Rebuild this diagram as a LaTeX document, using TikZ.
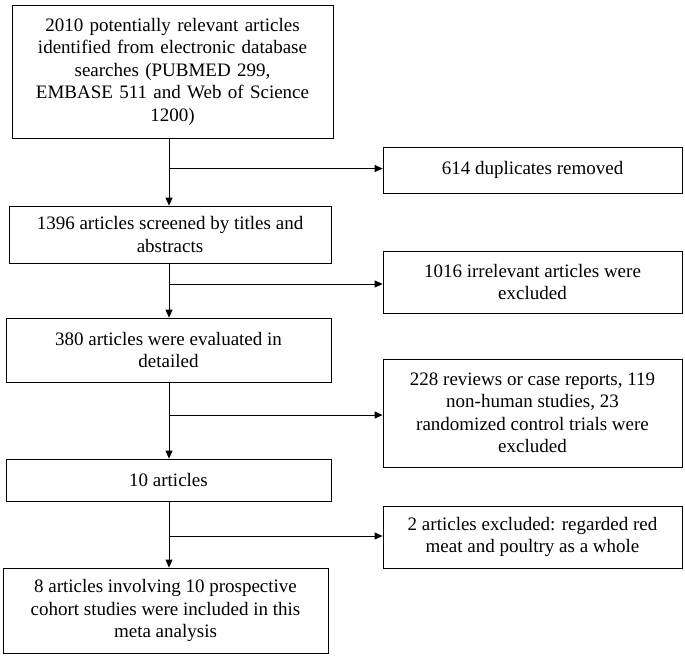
\documentclass[tikz,border=0pt]{standalone}
\usepackage{fontspec}
\setmainfont{Liberation Serif}
\usetikzlibrary{arrows.meta}
\begin{document}
\begin{tikzpicture}[x=1pt,y=-1pt,
  box/.style={draw,line width=0.8pt,align=center,inner sep=2pt,font=\fontsize{19}{22.5}\selectfont},
  arr/.style={line width=0.8pt,-{Triangle[length=8pt,width=7pt]}}]
\useasboundingbox (0,0) rectangle (685,656);
\node[box,minimum width=321pt,minimum height=133pt,text width=310pt] (b1) at (172.5,71.5) {2010 potentially relevant articles\\ identified from electronic database\\ searches (PUBMED 299,\\ EMBASE 511 and Web of Science\\ 1200)};
\node[box,minimum width=299pt,minimum height=46pt] (b2) at (532.5,170) {614 duplicates removed};
\node[box,minimum width=322pt,minimum height=57pt] (b3) at (170,234.5) {1396 articles screened by titles and\\ abstracts};
\node[box,minimum width=299pt,minimum height=62pt] (b4) at (532.5,282) {1016 irrelevant articles were\\ excluded};
\node[box,minimum width=325pt,minimum height=64pt] (b5) at (168.5,350) {380 articles were evaluated in\\ detailed};
\node[box,minimum width=299pt,minimum height=108pt] (b6) at (532.5,413) {228 reviews or case reports, 119\\ non-human studies, 23\\ randomized control trials were\\ excluded};
\node[box,minimum width=325pt,minimum height=42pt] (b7) at (168.5,480) {10 articles};
\node[box,minimum width=299pt,minimum height=62pt] (b8) at (532.5,537) {2 articles excluded: regarded red\\ meat and poultry as a whole};
\node[box,minimum width=325pt,minimum height=85pt] (b9) at (165.5,610.5) {8 articles involving 10 prospective\\ cohort studies were included in this\\ meta analysis};
\coordinate (j1) at (169,168.5);
\coordinate (j2) at (169,284);
\coordinate (j3) at (169,415);
\coordinate (j4) at (169,536);
\draw[arr] (b1.south -| j1) -- (b3.north -| j1);
\draw[arr] (b3.south -| j1) -- (b5.north -| j1);
\draw[arr] (b5.south -| j1) -- (b7.north -| j1);
\draw[arr] (b7.south -| j1) -- (b9.north -| j1);
\draw[arr] (j1) -- (j1 -| b2.west);
\draw[arr] (j2) -- (j2 -| b4.west);
\draw[arr] (j3) -- (j3 -| b6.west);
\draw[arr] (j4) -- (j4 -| b8.west);
\end{tikzpicture}
\end{document}
